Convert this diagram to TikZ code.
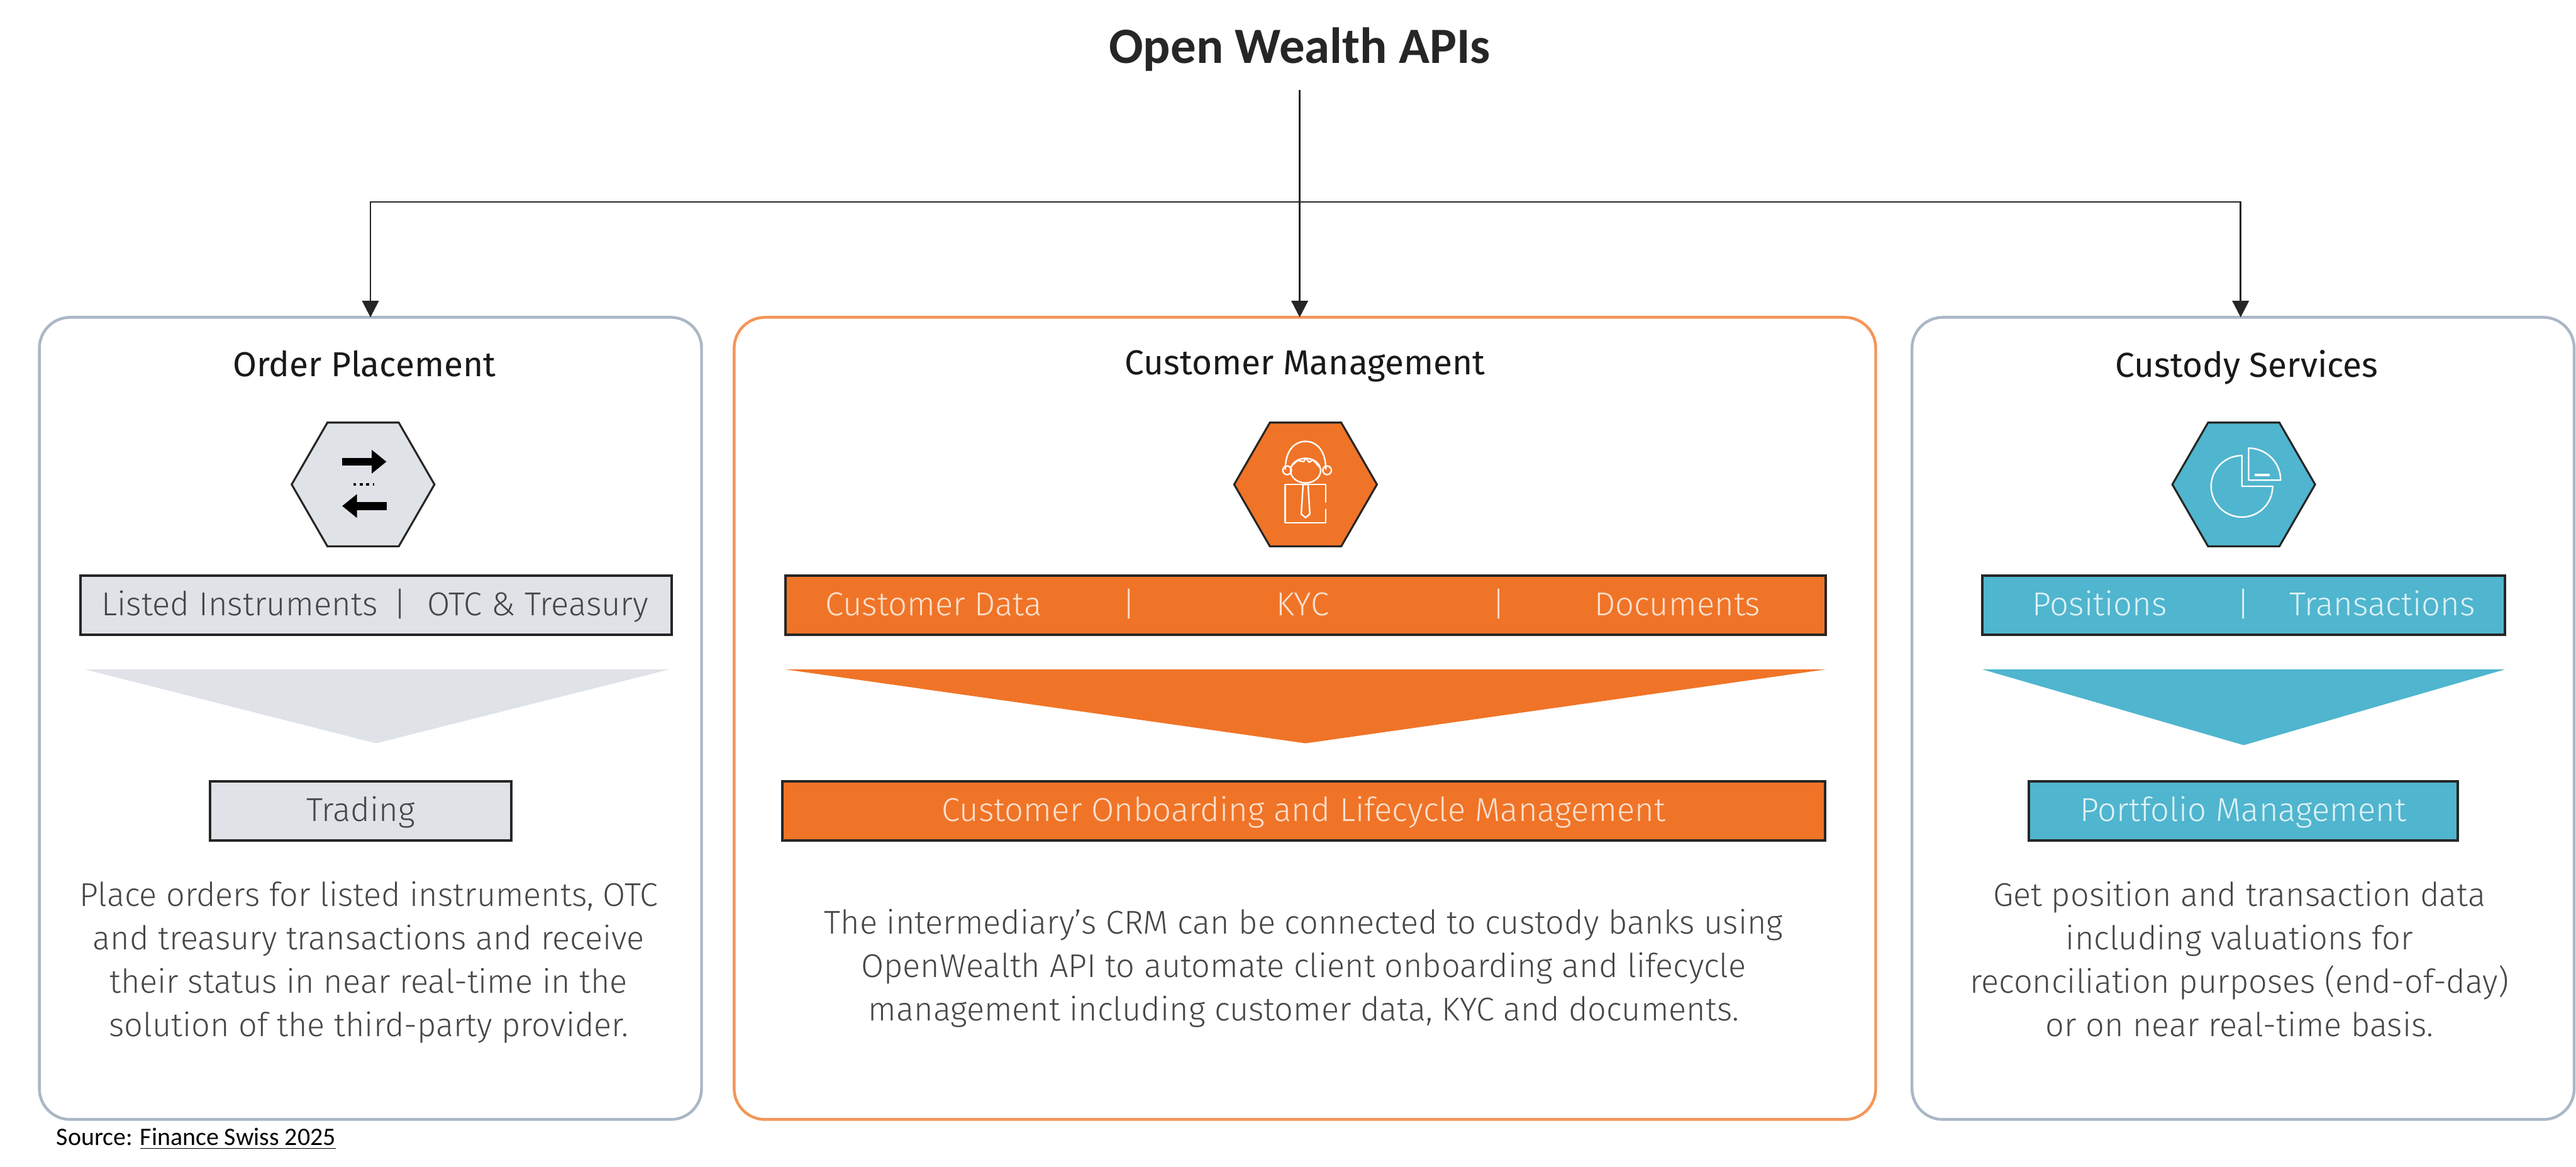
\documentclass[tikz,border=0pt]{standalone}
\usepackage{fontspec}
\setmainfont{Fira Sans Light}
\newfontfamily\headfont{Fira Sans}
\newfontfamily\notefont{Carlito}
\usepackage{xcolor}
\usepackage{tikz}
\usetikzlibrary{arrows.meta,positioning,shapes.geometric}
\definecolor{slateline}{RGB}{171,183,198}
\definecolor{greyfill}{RGB}{223,226,231}
\definecolor{orangefill}{RGB}{240,116,39}
\definecolor{orangeline}{RGB}{243,150,88}
\definecolor{tealfill}{RGB}{80,181,206}
\definecolor{greytext}{RGB}{70,70,70}
\definecolor{orangetext}{RGB}{250,225,208}
\definecolor{tealtext}{RGB}{222,242,247}

\begin{document}
\begin{tikzpicture}[
  panelbox/.style={draw=slateline, line width=1.3pt, rounded corners=.5cm,
    minimum height=13.03cm, inner sep=0pt, outer sep=0pt},
  hexbox/.style={draw=black!85, line width=.9pt, regular polygon, regular polygon sides=6,
    minimum size=2.32cm, inner sep=0pt, outer sep=0pt},
  barbox/.style={draw=black!85, line width=1.1pt, minimum height=.96cm, inner sep=0pt, outer sep=0pt},
  headtext/.style={font=\headfont\fontsize{16}{18}\selectfont, text=black!90, inner sep=0pt},
  bartext/.style={font=\fontsize{15.3}{18}\selectfont, text height=.42cm, text depth=.08cm, inner sep=0pt},
  bodytext/.style={font=\fontsize{15.2}{20}\selectfont, text=greytext, align=center, inner sep=0pt},
  arrow/.style={-{Triangle[length=.27cm,width=.27cm]}, line width=.8pt, black!85},
  icon/.style={draw=white, line width=.7pt, line join=round}
]
\useasboundingbox (0,0) rectangle (41.86,-18.95);

\node (title) [font=\notefont\bfseries\fontsize{23.5}{28}\selectfont, text=black!85, inner sep=0pt] at (21.12,-.8) {Open Wealth APIs};

\node (pa) [panelbox, minimum width=10.76cm] at (6.02,-11.67) {};
\node (pb) [panelbox, minimum width=18.55cm, right=.53cm of pa, draw=orangeline] {};
\node (pc) [panelbox, minimum width=10.76cm, right=.59cm of pb] {};

\coordinate (busy) at (title.south |- 0,-3.28);
\coordinate (tipc) at ([xshift=-.04cm]pc.north);
\draw[arrow] (title.south) ++(0,-.3) -- (title.south |- pb.north);
\draw[arrow] (busy) -| (pa.north);
\draw[arrow] (busy) -| (tipc);

\node (heada) [headtext, below=.53cm of pa.north, xshift=-.1cm] {Order Placement};
\node (headb) [headtext, below=.53cm of pb.north] {Customer Management};
\node (headc) [headtext, below=.53cm of pc.north, xshift=.06cm] {Custody Services};

\node (hexa) [hexbox, fill=greyfill, below=1.71cm of pa.north, xshift=-.12cm] {};
\node (hexb) [hexbox, fill=orangefill, below=1.71cm of pb.north, xshift=.01cm] {};
\node (hexc) [hexbox, fill=tealfill, below=1.71cm of pc.north, xshift=.01cm] {};

\begin{scope}[shift={(hexa.center)}]
  \draw[line width=3.6pt, black, -{Triangle[length=.24cm,width=.37cm]}] (-.34,.37) -- (.38,.37);
  \draw[line width=3.6pt, black, -{Triangle[length=.24cm,width=.37cm]}] (.38,-.35) -- (-.34,-.35);
  \draw[line width=1.4pt, black, dash pattern=on 1.4pt off 1.6pt] (-.16,0) -- (.18,0);
\end{scope}

\begin{scope}[shift={(hexb.center)}]
  \draw[icon] (-.33,.24) .. controls (-.33,.55) and (-.18,.7) .. (0,.7) .. controls (.18,.7) and (.33,.55) .. (.33,.24);
  \draw[icon] (0,.225) ellipse (.245 and .2);
  \draw[icon] (-.23,.3) -- (-.13,.39) -- (-.03,.37) -- (0,.43) -- (.06,.36) -- (.12,.4) -- (.23,.28);
  \draw[icon] (-.3,.23) circle (.07);
  \draw[icon] (.35,.23) circle (.07);
  \draw[icon] (.33,-.4) -- (.33,-.62) -- (-.33,-.62) -- (-.33,0) -- (.33,0) -- (.33,-.3);
  \draw[icon] (-.04,0) -- (.04,0) -- (.07,-.48) -- (0,-.54) -- (-.07,-.48) -- cycle;
\end{scope}

\begin{scope}[shift={(hexc.center)}]
  \draw[icon] (-.03,.47) arc[start angle=90, end angle=360, radius=.5] -- (-.03,-.03) -- cycle;
  \draw[icon] (.08,.07) -- (.08,.59) arc[start angle=90, end angle=0, radius=.52] -- cycle;
  \draw[white, line width=1.4pt] (.18,.155) -- (.42,.155);
\end{scope}

\node (bara) [barbox, fill=greyfill, minimum width=9.61cm, below=.48cm of hexa, xshift=.21cm] {};
\node (barb) [barbox, fill=orangefill, minimum width=16.9cm, below=.48cm of hexb] {};
\node (barc) [barbox, fill=tealfill, minimum width=8.49cm, below=.48cm of hexc] {};

\node (listed) [bartext, text=greytext, anchor=west] at ([xshift=.34cm]bara.west) {Listed Instruments};
\node (sepa) [bartext, text=greytext] at ([xshift=5.2cm]bara.west) {|};
\node (otc) [bartext, text=greytext, anchor=east] at ([xshift=-.37cm]bara.east) {OTC \& Treasury};

\node (data) [bartext, text=orangetext, anchor=west] at ([xshift=.64cm]barb.west) {Customer Data};
\node (sepb) [bartext, text=orangetext] at ([xshift=5.58cm]barb.west) {|};
\node (kyc) [bartext, text=orangetext] at ([xshift=-.05cm]barb.center) {KYC};
\node (sepc) [bartext, text=orangetext] at ([xshift=11.59cm]barb.west) {|};
\node (docs) [bartext, text=orangetext, anchor=east] at ([xshift=-1.05cm]barb.east) {Documents};

\node (posi) [bartext, text=tealtext, anchor=west] at ([xshift=.8cm]barc.west) {Positions};
\node (sepd) [bartext, text=tealtext] at (barc.center) {|};
\node (trans) [bartext, text=tealtext, anchor=east] at ([xshift=-.48cm]barc.east) {Transactions};

\fill[greyfill] ([yshift=-.56cm]bara.south west) ++(.08,0) -- ([xshift=-.04cm,yshift=-.56cm]bara.south east) -- ([yshift=-1.76cm]bara.south) -- cycle;
\fill[orangefill] ([yshift=-.56cm]barb.south west) -- ([yshift=-.56cm]barb.south east) -- ([yshift=-1.76cm]barb.south) -- cycle;
\fill[tealfill] ([yshift=-.56cm]barc.south west) -- ([yshift=-.56cm]barc.south east) -- ([yshift=-1.79cm]barc.south) -- cycle;

\node (trade) [barbox, bartext, fill=greyfill, minimum width=4.89cm, below=2.38cm of bara, xshift=-.25cm, text=greytext] {Trading};
\node (board) [barbox, bartext, fill=orangefill, minimum width=16.95cm, below=2.38cm of barb, xshift=-.03cm, text=orangetext] {Customer Onboarding and Lifecycle Management};
\node (folio) [barbox, bartext, fill=tealfill, minimum width=6.97cm, below=2.38cm of barc, xshift=-.01cm, text=tealtext] {Portfolio Management};

\node (texta) [bodytext, below=.66cm of trade, xshift=.13cm] {Place orders for listed instruments, OTC\\and treasury transactions and receive\\their status in near real-time in the\\solution of the third-party provider.};
\node (textb) [bodytext, below=1.11cm of board] {The intermediary's CRM can be connected to custody banks using\\OpenWealth API to automate client onboarding and lifecycle\\management including customer data, KYC and documents.};
\node (textc) [bodytext, below=.66cm of folio, xshift=-.06cm] {Get position and transaction data\\including valuations for\\reconciliation purposes (end-of-day)\\or on near real-time basis.};

\node (source) [font=\notefont\fontsize{11.6}{14}\selectfont, inner sep=0pt, anchor=north west, below right=.13cm and .27cm of pa.south west] {Source: \underline{Finance Swiss 2025}};
\end{tikzpicture}
\end{document}
